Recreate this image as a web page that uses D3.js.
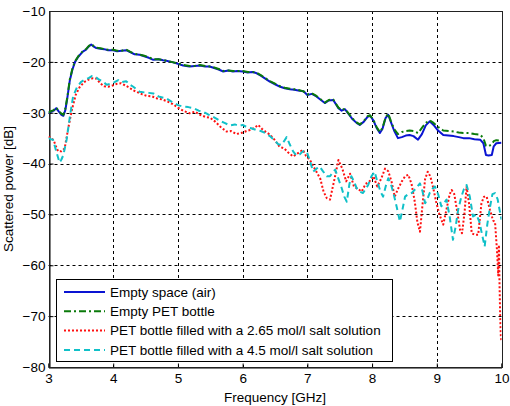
<!DOCTYPE html>
<html><head><meta charset="utf-8">
<script src="https://cdn.jsdelivr.net/npm/d3@7"></script>
<style>body{margin:0;background:#fff}svg{display:block}text{font-family:"Liberation Sans",Arial,sans-serif}</style>
</head><body><div id="chart"></div>
<script>
const xTicks = [3,4,5,6,7,8,9,10];
const yTicks = [-10,-20,-30,-40,-50,-60,-70,-80];
const xLabel = "Frequency [GHz]";
const yLabel = "Scattered power [dB]";
const seriesNames = ["Empty space (air)","Empty PET bottle","PET bottle filled with a 2.65 mol/l salt solution","PET bottle filled with a 4.5 mol/l salt solution"];

const airData = [[3.00,-30.0],[3.04,-29.8],[3.08,-29.6],[3.12,-29.1],[3.16,-29.8],[3.20,-30.4],[3.23,-30.6],[3.26,-29.5],[3.29,-27.2],[3.33,-23.6],[3.37,-21.5],[3.41,-20.0],[3.46,-19.0],[3.53,-18.0],[3.58,-17.6],[3.62,-17.0],[3.66,-16.6],[3.70,-17.0],[3.74,-17.3],[3.80,-17.4],[3.86,-17.5],[3.92,-17.7],[4.00,-17.7],[4.06,-17.9],[4.13,-17.8],[4.20,-17.7],[4.26,-18.1],[4.33,-18.5],[4.41,-18.6],[4.48,-18.9],[4.55,-19.2],[4.62,-19.6],[4.70,-19.5],[4.77,-19.7],[4.82,-19.8],[4.90,-20.0],[5.00,-20.4],[5.08,-20.7],[5.18,-20.9],[5.26,-20.8],[5.34,-20.7],[5.42,-20.9],[5.49,-20.9],[5.56,-21.2],[5.63,-21.5],[5.70,-21.9],[5.78,-21.7],[5.85,-21.9],[5.92,-21.8],[6.00,-21.9],[6.08,-22.1],[6.15,-22.0],[6.21,-22.2],[6.28,-22.7],[6.35,-23.3],[6.42,-23.9],[6.50,-24.4],[6.58,-24.9],[6.65,-25.2],[6.73,-25.4],[6.80,-25.5],[6.88,-25.7],[6.94,-25.8],[7.00,-26.5],[7.07,-26.3],[7.14,-26.8],[7.20,-27.4],[7.27,-28.1],[7.33,-27.6],[7.40,-27.5],[7.48,-29.1],[7.53,-29.6],[7.58,-29.3],[7.64,-30.3],[7.70,-31.3],[7.76,-32.0],[7.81,-32.4],[7.87,-31.8],[7.93,-30.8],[7.97,-30.6],[8.02,-31.5],[8.07,-33.0],[8.12,-34.0],[8.16,-33.2],[8.21,-31.0],[8.25,-30.4],[8.29,-31.8],[8.34,-33.5],[8.40,-35.0],[8.46,-34.8],[8.52,-34.5],[8.58,-34.4],[8.64,-34.6],[8.71,-35.3],[8.77,-34.2],[8.83,-32.5],[8.89,-31.7],[8.95,-32.4],[9.02,-33.5],[9.10,-34.4],[9.18,-34.5],[9.26,-34.6],[9.34,-34.8],[9.41,-35.0],[9.50,-35.0],[9.58,-35.2],[9.67,-35.3],[9.72,-36.0],[9.76,-38.3],[9.80,-38.4],[9.85,-38.3],[9.88,-36.6],[9.92,-36.0],[10.0,-35.9]];

const petData = [[3.00,-30.0],[3.04,-29.7],[3.08,-29.5],[3.12,-29.0],[3.16,-29.7],[3.20,-30.2],[3.23,-30.4],[3.26,-29.2],[3.29,-27.0],[3.33,-23.4],[3.37,-21.3],[3.41,-19.9],[3.46,-18.9],[3.53,-17.9],[3.58,-17.5],[3.62,-16.9],[3.66,-16.5],[3.70,-16.9],[3.74,-17.2],[3.80,-17.3],[3.86,-17.5],[3.92,-17.6],[4.00,-17.6],[4.06,-17.8],[4.13,-17.8],[4.20,-17.6],[4.26,-18.0],[4.33,-18.4],[4.41,-18.6],[4.48,-18.8],[4.55,-19.1],[4.62,-19.5],[4.70,-19.5],[4.77,-19.6],[4.82,-19.8],[4.90,-20.0],[5.00,-20.3],[5.08,-20.6],[5.18,-20.8],[5.26,-20.8],[5.34,-20.6],[5.42,-20.8],[5.49,-20.9],[5.56,-21.1],[5.63,-21.4],[5.70,-21.8],[5.78,-21.7],[5.85,-21.8],[5.92,-21.8],[6.00,-21.8],[6.08,-22.0],[6.15,-22.0],[6.21,-22.1],[6.28,-22.6],[6.35,-23.2],[6.42,-23.8],[6.50,-24.3],[6.58,-24.8],[6.65,-25.1],[6.73,-25.3],[6.80,-25.4],[6.88,-25.6],[6.94,-25.8],[7.00,-26.4],[7.07,-26.2],[7.14,-26.7],[7.20,-27.3],[7.27,-28.0],[7.33,-27.5],[7.40,-27.4],[7.48,-29.0],[7.53,-29.5],[7.58,-29.2],[7.64,-30.2],[7.70,-31.2],[7.76,-31.9],[7.81,-32.3],[7.87,-31.7],[7.93,-30.7],[7.97,-30.5],[8.02,-31.4],[8.07,-32.8],[8.12,-33.8],[8.16,-33.0],[8.21,-30.9],[8.25,-30.2],[8.29,-31.6],[8.34,-33.2],[8.40,-34.2],[8.46,-33.8],[8.52,-33.6],[8.58,-33.5],[8.64,-33.6],[8.71,-34.0],[8.77,-33.0],[8.83,-32.0],[8.89,-31.5],[8.95,-32.0],[9.02,-32.8],[9.10,-33.5],[9.18,-33.6],[9.26,-33.7],[9.34,-33.9],[9.41,-34.0],[9.50,-34.0],[9.58,-34.2],[9.67,-34.3],[9.72,-35.0],[9.76,-36.5],[9.80,-36.6],[9.85,-36.2],[9.88,-35.6],[9.92,-35.4],[10.0,-35.5]];

const salt265Data = [[3.00,-34.7],[3.04,-35.0],[3.08,-35.4],[3.12,-36.8],[3.15,-37.6],[3.20,-37.6],[3.25,-37.0],[3.30,-33.4],[3.36,-29.5],[3.42,-26.5],[3.48,-25.0],[3.55,-24.0],[3.62,-23.5],[3.69,-23.2],[3.74,-23.3],[3.80,-24.2],[3.86,-24.8],[3.92,-24.9],[4.00,-24.6],[4.06,-24.3],[4.12,-24.2],[4.18,-24.6],[4.24,-25.0],[4.31,-25.6],[4.38,-26.0],[4.45,-26.4],[4.52,-26.7],[4.60,-26.8],[4.68,-27.2],[4.76,-27.4],[4.84,-27.8],[4.92,-28.3],[5.00,-29.0],[5.08,-29.6],[5.18,-30.1],[5.26,-29.8],[5.34,-30.4],[5.42,-30.8],[5.50,-31.0],[5.58,-31.8],[5.66,-32.8],[5.75,-33.7],[5.82,-33.6],[5.90,-34.2],[6.00,-33.9],[6.06,-33.6],[6.11,-33.4],[6.18,-33.0],[6.24,-32.4],[6.30,-33.2],[6.36,-33.8],[6.42,-34.3],[6.50,-35.4],[6.57,-36.7],[6.64,-37.0],[6.71,-37.9],[6.78,-38.6],[6.85,-38.0],[6.93,-37.3],[6.98,-38.5],[7.04,-39.3],[7.09,-40.5],[7.14,-41.6],[7.20,-43.0],[7.25,-45.5],[7.30,-46.8],[7.35,-47.1],[7.42,-43.0],[7.48,-39.3],[7.54,-41.0],[7.60,-43.5],[7.66,-42.0],[7.72,-44.5],[7.78,-45.0],[7.84,-45.5],[7.90,-44.0],[7.96,-43.5],[8.02,-42.5],[8.08,-44.5],[8.14,-43.0],[8.20,-41.0],[8.25,-41.5],[8.30,-43.5],[8.35,-46.5],[8.40,-45.0],[8.46,-43.5],[8.51,-42.5],[8.56,-42.2],[8.61,-44.0],[8.66,-47.5],[8.70,-51.5],[8.74,-53.4],[8.78,-48.0],[8.82,-43.0],[8.86,-41.6],[8.90,-42.5],[8.94,-44.5],[8.99,-47.5],[9.04,-50.0],[9.10,-52.0],[9.15,-49.0],[9.20,-46.0],[9.23,-45.2],[9.27,-46.0],[9.31,-49.0],[9.36,-53.0],[9.39,-53.7],[9.43,-49.5],[9.46,-44.5],[9.50,-48.0],[9.54,-53.7],[9.59,-54.0],[9.64,-54.0],[9.69,-47.8],[9.73,-46.5],[9.77,-46.5],[9.82,-49.0],[9.87,-51.2],[9.90,-51.5],[9.93,-57.0],[9.95,-62.0],[9.96,-56.0],[9.97,-64.0],[9.98,-70.0],[9.99,-74.0],[10.0,-75.0]];

const salt45Data = [[3.00,-35.0],[3.04,-35.2],[3.07,-35.3],[3.12,-37.6],[3.17,-39.8],[3.20,-39.2],[3.23,-38.3],[3.28,-35.3],[3.33,-30.8],[3.38,-26.8],[3.44,-25.0],[3.50,-24.0],[3.56,-23.5],[3.62,-23.2],[3.67,-22.8],[3.72,-22.9],[3.77,-23.4],[3.84,-23.9],[3.90,-24.5],[3.96,-24.3],[4.02,-24.0],[4.08,-23.6],[4.13,-24.0],[4.20,-23.8],[4.26,-24.5],[4.31,-24.9],[4.36,-25.4],[4.41,-25.9],[4.48,-26.0],[4.55,-26.1],[4.62,-26.2],[4.70,-26.8],[4.76,-27.0],[4.82,-27.2],[4.90,-27.8],[5.00,-28.5],[5.08,-28.8],[5.16,-28.9],[5.24,-29.1],[5.32,-29.6],[5.39,-29.8],[5.46,-30.3],[5.53,-30.7],[5.60,-31.2],[5.65,-31.6],[5.72,-32.0],[5.80,-32.5],[5.88,-32.3],[5.95,-32.6],[6.00,-32.4],[6.06,-32.8],[6.12,-33.0],[6.21,-33.4],[6.28,-33.6],[6.35,-34.0],[6.42,-34.6],[6.49,-35.4],[6.55,-36.2],[6.60,-36.3],[6.64,-35.6],[6.68,-34.8],[6.72,-36.0],[6.78,-37.6],[6.83,-38.4],[6.88,-38.2],[6.93,-37.6],[6.99,-37.6],[7.04,-39.5],[7.09,-41.6],[7.14,-41.0],[7.19,-40.6],[7.24,-41.5],[7.30,-42.5],[7.35,-42.5],[7.40,-41.6],[7.43,-41.2],[7.48,-43.0],[7.53,-44.8],[7.57,-46.5],[7.61,-47.5],[7.65,-44.0],[7.68,-42.5],[7.72,-43.5],[7.76,-44.8],[7.81,-45.5],[7.86,-45.8],[7.90,-45.0],[7.94,-44.2],[7.99,-42.5],[8.04,-41.6],[8.08,-43.5],[8.13,-45.5],[8.17,-46.5],[8.21,-44.5],[8.25,-42.9],[8.29,-44.0],[8.33,-45.8],[8.38,-48.5],[8.43,-51.4],[8.47,-49.0],[8.51,-46.5],[8.56,-46.0],[8.61,-45.8],[8.67,-45.0],[8.74,-43.9],[8.78,-45.5],[8.82,-47.8],[8.86,-46.8],[8.89,-45.8],[8.93,-45.0],[8.97,-44.5],[9.02,-46.0],[9.07,-48.4],[9.11,-47.8],[9.15,-47.1],[9.20,-50.5],[9.25,-55.0],[9.29,-52.5],[9.33,-49.1],[9.38,-46.5],[9.42,-45.0],[9.46,-44.2],[9.51,-46.5],[9.56,-50.4],[9.61,-50.0],[9.66,-51.5],[9.70,-54.0],[9.74,-56.3],[9.78,-52.0],[9.82,-48.7],[9.86,-46.0],[9.90,-45.8],[9.94,-47.0],[9.97,-49.1],[10.0,-51.0]];

const W = 510, H = 406;
const m = {left: 48.5, right: 8.5, top: 11, bottom: 39};
const FS = 13.5;
const svg = d3.select("#chart").append("svg").attr("width", W).attr("height", H);
svg.append("rect").attr("width", W).attr("height", H).attr("fill", "#fff");

const x = d3.scaleLinear().domain([3, 10]).range([m.left, W - m.right]);
const y = d3.scaleLinear().domain([-80, -10]).range([H - m.bottom, m.top]);

const g = svg.append("g");
g.selectAll(".gx").data(xTicks.slice(1, -1)).enter().append("line")
  .attr("x1", d => Math.round(x(d)) + 0.5).attr("x2", d => Math.round(x(d)) + 0.5)
  .attr("y1", y(-10)).attr("y2", y(-80))
  .attr("stroke", "#000").attr("stroke-width", 1).attr("stroke-dasharray", "3,3");
g.selectAll(".gy").data(yTicks.slice(1, -1)).enter().append("line")
  .attr("y1", d => Math.round(y(d)) + 0.5).attr("y2", d => Math.round(y(d)) + 0.5)
  .attr("x1", x(3)).attr("x2", x(10))
  .attr("stroke", "#000").attr("stroke-width", 1).attr("stroke-dasharray", "3,3");

const xAxis = d3.axisBottom(x).tickValues(xTicks).tickSize(-4).tickPadding(6).tickFormat(d3.format("d"));
const yAxis = d3.axisLeft(y).tickValues(yTicks).tickSize(-4).tickPadding(4).tickFormat(d3.format("d"));
const ga = svg.append("g").attr("transform", `translate(0,${Math.round(y(-80)) + 0.5})`).call(xAxis);
const gb = svg.append("g").attr("transform", `translate(${Math.round(x(3)) + 0.5},0)`).call(yAxis);
[ga, gb].forEach(a => {
  a.selectAll("text").attr("font-size", FS).attr("fill", "#000").style("font-family", '"Liberation Sans",Arial,sans-serif');
  a.selectAll("line").attr("stroke", "#000");
  a.select(".domain").attr("stroke", "#000");
});
svg.append("rect").attr("x", Math.round(x(3)) + 0.5).attr("y", Math.round(y(-10)) + 0.5)
  .attr("width", Math.round(x(10)) - Math.round(x(3))).attr("height", Math.round(y(-80)) - Math.round(y(-10)))
  .attr("fill", "none").attr("stroke", "#222").attr("stroke-width", 1);

svg.append("text").attr("x", (x(3) + x(10)) / 2).attr("y", 401.5).attr("text-anchor", "middle")
  .attr("font-size", FS).attr("fill", "#000").text(xLabel);
svg.append("text").attr("transform", `translate(13,${(y(-10) + y(-80)) / 2}) rotate(-90)`).attr("text-anchor", "middle")
  .attr("font-size", FS).attr("fill", "#000").text(yLabel);

const styles = [
  {data: airData, color: "#0a14d2", dash: null, width: 2},
  {data: petData, color: "#0a7a0a", dash: "7,3,2,3", width: 2},
  {data: salt265Data, color: "#ff1010", dash: "2,2", width: 2},
  {data: salt45Data, color: "#10c0c8", dash: "6,4", width: 2}
];
const line = d3.line().x(d => x(d[0])).y(d => y(d[1]));
svg.append("clipPath").attr("id", "clip").append("rect")
  .attr("x", x(3)).attr("y", y(-10)).attr("width", x(10) - x(3)).attr("height", y(-80) - y(-10));
const sg = svg.append("g").attr("clip-path", "url(#clip)");
styles.forEach(s => {
  sg.append("path").datum(s.data).attr("d", line).attr("fill", "none")
    .attr("stroke", s.color).attr("stroke-width", s.width)
    .attr("stroke-dasharray", s.dash).attr("stroke-linejoin", "round");
});

const lg = svg.append("g");
lg.append("rect").attr("x", 56.5).attr("y", 279.5).attr("width", 336).attr("height", 82)
  .attr("fill", "#fff").attr("stroke", "#000").attr("stroke-width", 1);
seriesNames.forEach((name, i) => {
  const yy = 292 + i * 19.3;
  lg.append("line").attr("x1", 64).attr("x2", 105).attr("y1", yy).attr("y2", yy)
    .attr("stroke", styles[i].color).attr("stroke-width", 2).attr("stroke-dasharray", styles[i].dash);
  lg.append("text").attr("x", 110).attr("y", yy + 4.8).attr("font-size", FS).attr("fill", "#000").text(name);
});
</script></body></html>
